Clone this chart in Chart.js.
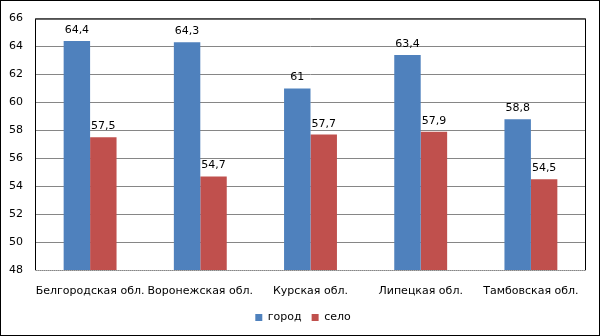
<!DOCTYPE html>
<html>
<head>
<meta charset="utf-8">
<script src="https://cdn.jsdelivr.net/npm/chart.js@4.4.0/dist/chart.umd.min.js"></script>
<style>
  html, body { margin: 0; padding: 0; background: #fff; }
  #wrap { width: 600px; height: 336px; position: relative; box-sizing: border-box; }
  #wrap canvas { display: block; }
</style>
</head>
<body>
<div id="wrap"><canvas id="chart" width="600" height="336"></canvas></div>
<script>
// chart data
const regions = ['Белгородская обл.', 'Воронежская обл.', 'Курская обл.', 'Липецкая обл.', 'Тамбовская обл.'];
const cityValues = [64.4, 64.3, 61, 63.4, 58.8];
const villageValues = [57.5, 54.7, 57.7, 57.9, 54.5];
const yTicks = [48, 50, 52, 54, 56, 58, 60, 62, 64, 66];

const fontFamily = '"DejaVu Sans", Verdana, sans-serif';

// frame around plot area + outer border
const framePlugin = {
    id: 'frame',
    afterLayout(chart) {
        // nudge the legend to the right like the original
        if (chart.legend) {
            chart.legend.left += 10;
            chart.legend.right += 10;
        }
    },
    afterDraw(chart) {
        const ctx = chart.ctx;
        const a = chart.chartArea;
        ctx.save();
        ctx.strokeStyle = '#000';
        ctx.lineWidth = 1;
        ctx.beginPath();
        ctx.moveTo(a.left + 0.5, a.bottom);
        ctx.lineTo(a.left + 0.5, a.top + 0.5);
        ctx.lineTo(a.right - 0.5, a.top + 0.5);
        ctx.lineTo(a.right - 0.5, a.bottom);
        ctx.stroke();
        // dotted base line
        ctx.strokeStyle = '#b0b0b0';
        ctx.setLineDash([1, 1]);
        ctx.beginPath();
        ctx.moveTo(a.left, a.bottom + 0.5);
        ctx.lineTo(a.right, a.bottom + 0.5);
        ctx.stroke();
        ctx.setLineDash([]);
        // outer border
        ctx.strokeStyle = '#000';
        ctx.strokeRect(0.5, 0.5, chart.width - 1, chart.height - 1);
        ctx.restore();
    }
};

// value labels above bars
const valueLabels = {
    id: 'valueLabels',
    afterDatasetsDraw(chart) {
        const ctx = chart.ctx;
        ctx.save();
        ctx.font = '11px ' + fontFamily;
        ctx.fillStyle = '#000';
        ctx.textAlign = 'center';
        ctx.textBaseline = 'alphabetic';
        chart.data.datasets.forEach((ds, i) => {
            chart.getDatasetMeta(i).data.forEach((bar, j) => {
                const txt = String(ds.data[j]).replace('.', ',');
                ctx.fillText(txt, bar.x, bar.y - 8);
            });
        });
        ctx.restore();
    }
};

new Chart(document.getElementById('chart'), {
    type: 'bar',
    data: {
        labels: regions,
        datasets: [
            { label: 'город', data: cityValues, backgroundColor: '#4F81BD' },
            { label: 'село', data: villageValues, backgroundColor: '#C0504D' }
        ]
    },
    options: {
        responsive: false,
        animation: false,
        events: [],
        layout: { padding: { left: 0, top: 13, right: 14, bottom: 3 } },
        datasets: {
            bar: { categoryPercentage: 0.48, barPercentage: 1.0 }
        },
        scales: {
            x: {
                grid: { display: false },
                border: { display: false },
                ticks: {
                    color: '#000',
                    font: { family: fontFamily, size: 11 },
                    padding: 7,
                    maxRotation: 0,
                    autoSkip: false
                },
                afterFit(scale) { scale.height = 32; }
            },
            y: {
                min: 48,
                max: 66,
                afterBuildTicks(scale) {
                    scale.ticks = yTicks.map(v => ({ value: v }));
                },
                grid: { color: '#868686', drawTicks: false },
                border: { display: false },
                ticks: {
                    color: '#000',
                    font: { family: fontFamily, size: 11 },
                    padding: 12
                },
                afterFit(scale) { scale.width = 35; }
            }
        },
        plugins: {
            legend: {
                position: 'bottom',
                labels: {
                    boxWidth: 7,
                    boxHeight: 7,
                    color: '#000',
                    font: { family: fontFamily, size: 11 },
                    padding: 10
                }
            },
            tooltip: { enabled: false }
        }
    },
    plugins: [framePlugin, valueLabels]
});
</script>
</body>
</html>
